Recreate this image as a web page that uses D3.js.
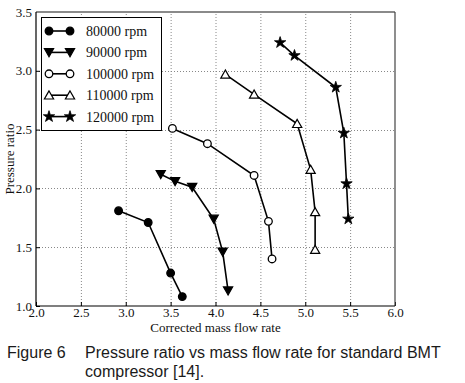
<!DOCTYPE html>
<head>
  <meta charset="utf-8">
  <script src="https://cdn.jsdelivr.net/npm/d3@7"></script>
  <style>
    body { margin: 0; background: #fff; }
    svg { display: block; }
  </style>
</head>
<body>
<div id=chart></div>
<script>
// data
const rpm_labels = ['80000 rpm', '90000 rpm', '100000 rpm', '110000 rpm', '120000 rpm']
const markers = ['circle', 'triDown', 'ring', 'triUp', 'star']
const flow_80k = [2.92, 3.25, 3.50, 3.63]
const pr_80k = [1.81, 1.71, 1.28, 1.08]
const flow_90k = [3.39, 3.55, 3.74, 3.98, 4.08, 4.14]
const pr_90k = [2.12, 2.06, 2.01, 1.74, 1.46, 1.13]
const flow_100k = [3.52, 3.91, 4.43, 4.59, 4.63]
const pr_100k = [2.51, 2.38, 2.11, 1.72, 1.40]
const flow_110k = [4.11, 4.43, 4.91, 5.06, 5.11, 5.11]
const pr_110k = [2.97, 2.80, 2.55, 2.16, 1.80, 1.48]
const flow_120k = [4.72, 4.88, 5.34, 5.43, 5.46, 5.48]
const pr_120k = [3.24, 3.13, 2.86, 2.47, 2.04, 1.74]
const x_ticks = [2.0, 2.5, 3.0, 3.5, 4.0, 4.5, 5.0, 5.5, 6.0]
const y_ticks = [1.0, 1.5, 2.0, 2.5, 3.0, 3.5]

const series = [
  [flow_80k, pr_80k], [flow_90k, pr_90k], [flow_100k, pr_100k],
  [flow_110k, pr_110k], [flow_120k, pr_120k],
].map(([xs, ys], i) => ({
  label: rpm_labels[i],
  marker: markers[i],
  points: xs.map((x, j) => [x, ys[j]]),
}))

const width = 465, height = 383
const margin = { left: 36, right: 70, top: 12, bottom: 77 }
const serif = '"Liberation Serif", "DejaVu Serif", serif'

const svg = d3.select('#chart').append('svg')
  .attr('width', width).attr('height', height)

const x = d3.scaleLinear().domain([2, 6]).range([margin.left, width - margin.right])
const y = d3.scaleLinear().domain([1, 3.5]).range([height - margin.bottom, margin.top])

// grid
svg.append('g').selectAll('line').data(x_ticks.slice(1, -1)).join('line')
  .attr('x1', d => x(d) + .5).attr('x2', d => x(d) + .5)
  .attr('y1', y(1)).attr('y2', y(3.5))
  .attr('stroke', '#888').attr('stroke-dasharray', '1,2')
svg.append('g').selectAll('line').data(y_ticks.slice(1, -1)).join('line')
  .attr('y1', d => Math.round(y(d)) + .5).attr('y2', d => Math.round(y(d)) + .5)
  .attr('x1', x(2)).attr('x2', x(6))
  .attr('stroke', '#888').attr('stroke-dasharray', '1,2')

// axes
const x_axis = svg.append('g')
  .attr('transform', `translate(0,${y(1)})`)
  .call(d3.axisBottom(x).tickValues(x_ticks).tickFormat(d3.format('.1f')).tickSize(-4).tickPadding(2))
const y_axis = svg.append('g')
  .attr('transform', `translate(${x(2)},0)`)
  .call(d3.axisLeft(y).tickValues(y_ticks).tickFormat(d3.format('.1f')).tickSize(-4).tickPadding(4))
for (const g of [x_axis, y_axis]) {
  g.select('.domain').remove()
  g.selectAll('.tick line').attr('stroke', '#000')
  g.selectAll('text').attr('font-family', serif).attr('font-size', 13).attr('fill', '#111')
}
x_axis.selectAll('text').attr('dy', '0.71em')

// frame
svg.append('line').attr('x1', x(2)).attr('x2', x(6)).attr('y1', y(3.5)).attr('y2', y(3.5))
  .attr('stroke', '#8a8a8a').attr('stroke-width', 2)
svg.append('line').attr('x1', x(6)).attr('x2', x(6)).attr('y1', y(3.5)).attr('y2', y(1))
  .attr('stroke', '#444').attr('stroke-width', 1.2)
svg.append('line').attr('x1', x(2)).attr('x2', x(2)).attr('y1', y(3.5)).attr('y2', y(1))
  .attr('stroke', '#000').attr('stroke-width', 1.2)
svg.append('line').attr('x1', x(2)).attr('x2', x(6)).attr('y1', y(1)).attr('y2', y(1))
  .attr('stroke', '#000').attr('stroke-width', 1.2)

// marker shapes
const draw_marker = (g, type) => {
  if (type === 'circle' || type === 'ring') {
    g.append('circle').attr('r', 3.8)
      .attr('fill', type === 'circle' ? '#000' : '#fff')
      .attr('stroke', '#000').attr('stroke-width', 1.3)
  } else if (type === 'triUp' || type === 'triDown') {
    const s = type === 'triUp' ? -1 : 1
    g.append('path').attr('d', `M0,${4.3 * s}L-4.6,${-3.8 * s}L4.6,${-3.8 * s}Z`)
      .attr('fill', type === 'triUp' ? '#fff' : '#000')
      .attr('stroke', '#000').attr('stroke-width', 1.2)
  } else {
    g.append('path').attr('d', d3.symbol(d3.symbolStar, 40)())
      .attr('fill', '#000').attr('stroke', '#000').attr('stroke-width', .8)
  }
}

// series
const line = d3.line().x(d => x(d[0])).y(d => y(d[1]))
const plot = svg.append('g')
for (const s of series) {
  plot.append('path').attr('d', line(s.points))
    .attr('fill', 'none').attr('stroke', '#000').attr('stroke-width', 1.6)
  for (const p of s.points) {
    draw_marker(plot.append('g').attr('transform', `translate(${x(p[0])},${y(p[1])})`), s.marker)
  }
}

// legend
const legend = svg.append('g')
legend.append('rect').attr('x', 41.5).attr('y', 17.5).attr('width', 120).attr('height', 113)
  .attr('fill', '#fff').attr('stroke', '#000').attr('stroke-width', 1)
series.forEach((s, i) => {
  const ly = 31 + i * 21.4
  legend.append('line').attr('x1', 49).attr('x2', 70).attr('y1', ly).attr('y2', ly)
    .attr('stroke', '#000').attr('stroke-width', 1.6)
  draw_marker(legend.append('g').attr('transform', `translate(49,${ly})`), s.marker)
  draw_marker(legend.append('g').attr('transform', `translate(70,${ly})`), s.marker)
  legend.append('text').attr('x', 86).attr('y', ly).attr('dy', '0.35em')
    .attr('font-family', serif).attr('font-size', 14).attr('fill', '#111')
    .text(s.label)
})

// axis titles
svg.append('text').attr('x', (x(2) + x(6)) / 2).attr('y', 332)
  .attr('text-anchor', 'middle').attr('font-family', serif).attr('font-size', 13).attr('fill', '#111')
  .text('Corrected mass flow rate')
svg.append('text').attr('transform', `translate(14,${(y(1) + y(3.5)) / 2}) rotate(-90)`)
  .attr('text-anchor', 'middle').attr('font-family', serif).attr('font-size', 13).attr('fill', '#111')
  .text('Pressure ratio')

// caption
const caption = svg.append('g').attr('font-family', '"Liberation Sans", Arial, sans-serif')
  .attr('font-size', 16).attr('fill', '#1a1a1a')
caption.append('text').attr('x', 7).attr('y', 358).text('Figure 6')
caption.append('text').attr('x', 85).attr('y', 358).text('Pressure ratio vs mass flow rate for standard BMT')
caption.append('text').attr('x', 85).attr('y', 377).text('compressor [14].')
</script>
</body>
